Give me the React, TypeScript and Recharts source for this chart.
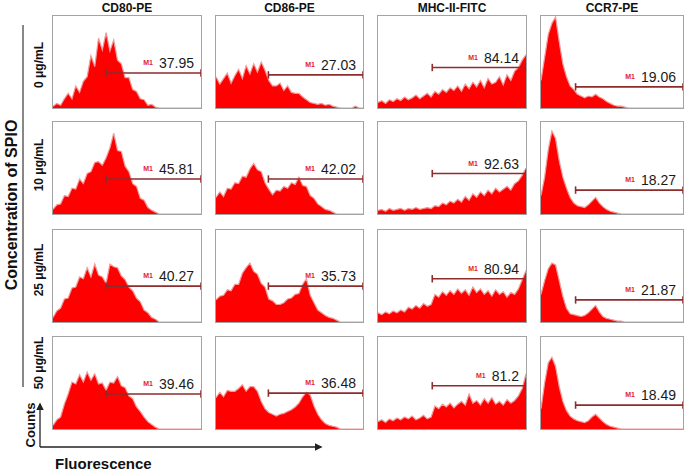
import React from 'react';
import { Area, AreaChart, Line, LineChart, ReferenceLine, XAxis, YAxis } from 'recharts';

const markers = ['CD80-PE', 'CD86-PE', 'MHC-II-FITC', 'CCR7-PE'];
const doses = ['0 μg/mL', '10 μg/mL', '25 μg/mL', '50 μg/mL'];

// gate (M1) start, in fluorescence bins (0..39)
const gateStart = [14, 13.9, 14.3, 9.5];

// event counts per bin, one row per SPIO dose (% of panel height)
const cd80Counts = [
  [2, 5, 3, 10, 16, 10, 24, 17, 29, 34, 57, 45, 76, 63, 82, 62, 74, 52, 48, 33, 33, 20, 18, 10, 9, 3, 4, 1, 0, 0, 0, 0, 0, 0, 0, 0, 0, 0, 0, 0],
  [5, 10, 11, 20, 19, 28, 27, 38, 33, 44, 46, 56, 57, 53, 61, 72, 88, 69, 68, 52, 46, 33, 30, 17, 15, 7, 4, 2, 0, 0, 0, 0, 0, 0, 0, 0, 0, 0, 0, 0],
  [5, 12, 15, 25, 26, 37, 38, 49, 47, 59, 49, 63, 51, 49, 42, 63, 60, 59, 50, 46, 38, 34, 26, 22, 13, 10, 5, 3, 0, 0, 0, 0, 0, 0, 0, 0, 0, 0, 0, 0],
  [4, 10, 13, 27, 38, 51, 49, 59, 51, 62, 53, 60, 49, 50, 42, 51, 50, 57, 47, 45, 36, 33, 24, 19, 13, 8, 5, 2, 0, 0, 0, 0, 0, 0, 0, 0, 0, 0, 0, 0],
];
const cd86Counts = [
  [34, 26, 32, 38, 27, 35, 42, 32, 46, 37, 48, 39, 50, 41, 30, 24, 24, 27, 19, 24, 17, 16, 16, 12, 9, 6, 5, 4, 5, 3, 4, 2, 1, 0, 0, 0, 0, 2, 0, 0],
  [18, 24, 19, 28, 27, 34, 33, 41, 40, 49, 55, 48, 46, 34, 27, 21, 26, 25, 30, 28, 34, 32, 40, 31, 30, 20, 17, 11, 8, 5, 4, 2, 0, 0, 0, 0, 0, 0, 0, 0],
  [24, 28, 29, 35, 34, 41, 41, 53, 59, 64, 55, 52, 42, 38, 25, 23, 19, 19, 21, 25, 26, 30, 31, 41, 47, 29, 21, 13, 10, 7, 5, 4, 2, 0, 0, 0, 0, 0, 0, 0],
  [34, 40, 35, 42, 41, 41, 44, 48, 41, 46, 46, 41, 30, 22, 18, 16, 14, 16, 17, 19, 21, 24, 28, 35, 40, 37, 25, 16, 10, 6, 4, 3, 2, 0, 0, 0, 0, 0, 0, 0],
];
const mhcCounts = [
  [6, 8, 5, 9, 7, 10, 8, 12, 9, 11, 14, 10, 13, 16, 12, 18, 15, 20, 17, 22, 19, 24, 18, 26, 21, 28, 23, 30, 22, 32, 26, 28, 34, 25, 36, 30, 40, 44, 52, 58],
  [4, 5, 3, 6, 4, 5, 6, 4, 6, 5, 7, 5, 6, 7, 6, 9, 8, 12, 10, 14, 12, 16, 13, 19, 15, 22, 18, 24, 20, 26, 22, 28, 24, 27, 30, 26, 33, 36, 42, 50],
  [10, 8, 11, 9, 12, 10, 13, 11, 16, 14, 18, 15, 20, 17, 19, 30, 27, 33, 29, 34, 30, 36, 31, 35, 29, 38, 32, 36, 30, 34, 28, 35, 30, 33, 27, 32, 30, 36, 46, 56],
  [8, 10, 7, 11, 9, 12, 10, 13, 11, 14, 10, 12, 15, 11, 13, 25, 22, 27, 24, 28, 23, 27, 30, 26, 38, 28, 31, 26, 33, 28, 34, 27, 30, 26, 32, 28, 31, 36, 44, 60],
];
const ccr7Counts = [
  [30, 55, 80, 92, 99, 72, 48, 34, 24, 20, 15, 13, 11, 13, 12, 15, 12, 10, 7, 5, 3, 2, 2, 1, 0, 0, 0, 0, 0, 0, 0, 0, 0, 0, 0, 0, 0, 0, 0, 0],
  [20, 40, 70, 90, 82, 58, 40, 28, 18, 12, 9, 8, 7, 10, 14, 18, 12, 8, 5, 3, 2, 1, 0, 0, 0, 0, 0, 0, 0, 0, 0, 0, 0, 0, 0, 0, 0, 0, 0, 0],
  [30, 45, 58, 64, 62, 45, 28, 15, 9, 8, 7, 6, 7, 10, 14, 18, 11, 6, 4, 3, 2, 1, 1, 0, 0, 0, 0, 0, 0, 0, 0, 0, 0, 0, 0, 0, 0, 0, 0, 0],
  [22, 50, 72, 78, 68, 46, 30, 20, 14, 11, 9, 8, 7, 9, 13, 16, 12, 8, 5, 3, 2, 1, 0, 0, 0, 0, 0, 0, 0, 0, 0, 0, 0, 0, 0, 0, 0, 0, 0, 0],
];

// % positive (M1) per dose
const cd80Pct = ['37.95', '45.81', '40.27', '39.46'];
const cd86Pct = ['27.03', '42.02', '35.73', '36.48'];
const mhcPct = ['84.14', '92.63', '80.94', '81.2'];
const ccr7Pct = ['19.06', '18.27', '21.87', '18.49'];

const countsByMarker = [cd80Counts, cd86Counts, mhcCounts, ccr7Counts];
const pctByMarker = [cd80Pct, cd86Pct, mhcPct, ccr7Pct];

// layout
const W = 686;
const H = 473;
const LAST_BIN = 39;
const colLeft = [52, 215, 377, 540];
const colWidth = [150, 149, 150, 144];
const rowTop = [15, 121, 229, 336];
const rowHeight = 94;
const gridBottom = 430;
const doseLabelY = [65, 165, 270, 363];
// height of the M1 bar, % of panel height [row][col]
const gateLevel = [
  [38, 36, 44, 23],
  [38, 38, 44, 26],
  [39, 39, 47, 24],
  [38, 39, 47, 26],
];
const FONT = 'Arial, "Liberation Sans", Helvetica, sans-serif';
const GATE = '#8e2b2b';

function GateLabel({ viewBox, pct }: any) {
  if (!viewBox) return null;
  const right = viewBox.x + viewBox.width - 7;
  const y = viewBox.y - 5;
  const textW = pct.replace('.', '').length * 7.8 + 3.9;
  return (
    <g>
      <text x={right} y={y} textAnchor="end" fontSize={14} fill="#1a1a1a" fontFamily={FONT}>
        {pct}
      </text>
      <text x={right - textW - 6} y={y - 3} textAnchor="end" fontSize={7} fontWeight="bold" fill="#e3242b" fontFamily={FONT}>
        M1
      </text>
    </g>
  );
}

function Histogram({ counts, gate, level, pct, width, height }: any) {
  const data = counts.map((c: number, i: number) => ({ bin: i, count: c }));
  return (
    <AreaChart width={width} height={height} data={data} margin={{ top: 0, right: 0, bottom: 0, left: 0 }}>
      <XAxis dataKey="bin" type="number" domain={[0, LAST_BIN]} hide />
      <YAxis domain={[0, 100]} hide allowDataOverflow />
      <Area
        type="linear"
        dataKey="count"
        fill="#ff0000"
        fillOpacity={1}
        stroke="#f29a9a"
        strokeWidth={1.2}
        dot={false}
        activeDot={false}
        isAnimationActive={false}
      />
      <ReferenceLine
        segment={[{ x: gate, y: level }, { x: LAST_BIN, y: level }]}
        stroke={GATE}
        strokeWidth={1.6}
        label={<GateLabel pct={pct} />}
      />
      <ReferenceLine segment={[{ x: gate, y: level - 4 }, { x: gate, y: level + 4 }]} stroke={GATE} strokeWidth={1.6} />
      <ReferenceLine segment={[{ x: LAST_BIN, y: level - 4 }, { x: LAST_BIN, y: level + 4 }]} stroke={GATE} strokeWidth={1.6} />
    </AreaChart>
  );
}

function GateGuide({ gate, width, height }: any) {
  return (
    <LineChart width={width} height={height} data={[{ bin: 0 }, { bin: LAST_BIN }]} margin={{ top: 0, right: 0, bottom: 0, left: 0 }}>
      <XAxis dataKey="bin" type="number" domain={[0, LAST_BIN]} hide />
      <YAxis domain={[0, 1]} hide />
      <Line dataKey="none" stroke="none" dot={false} isAnimationActive={false} />
      <ReferenceLine x={gate} stroke="#6e6e6e" strokeWidth={1} strokeDasharray="2 2" />
    </LineChart>
  );
}

export default function App() {
  return (
    <div style={{ position: 'absolute', left: 0, top: 0, width: W, height: H, background: '#fff', fontFamily: FONT }}>
      <svg width={W} height={H} style={{ position: 'absolute', left: 0, top: 0 }}>
        <defs>
          <marker id="arr" viewBox="0 0 10 10" refX="8" refY="5" markerWidth="6" markerHeight="6" orient="auto">
            <path d="M0,0 L10,5 L0,10 z" fill="#222" />
          </marker>
        </defs>
        {markers.map((m, c) => (
          <text key={m} x={colLeft[c] + colWidth[c] / 2} y={12} textAnchor="middle" fontSize={12} fontWeight="bold" fill="#111">
            {m}
          </text>
        ))}
        {doses.map((d, r) => (
          <text
            key={d}
            transform={`translate(39, ${doseLabelY[r]}) rotate(-90)`}
            textAnchor="middle"
            dominantBaseline="central"
            fontSize={12}
            fontWeight="bold"
            fill="#111"
          >
            {d}
          </text>
        ))}
        <text transform="translate(11, 205) rotate(-90)" textAnchor="middle" dominantBaseline="central" fontSize={16} fontWeight="bold" fill="#111">
          Concentration of SPIO
        </text>
        <line x1={23} y1={25} x2={23} y2={387} stroke="#111" strokeWidth={1} />
        <line x1={40} y1={447} x2={40} y2={404} stroke="#222" strokeWidth={1.3} markerEnd="url(#arr)" />
        <line x1={40} y1={447} x2={321} y2={447} stroke="#222" strokeWidth={1.3} markerEnd="url(#arr)" />
        <text transform="translate(30, 425) rotate(-90)" textAnchor="middle" dominantBaseline="central" fontSize={13} fontWeight="bold" fill="#111">
          Counts
        </text>
        <text x={55} y={469} fontSize={15} fontWeight="bold" fill="#111">
          Fluorescence
        </text>
      </svg>
      {rowTop.map((top, r) =>
        colLeft.map((left, c) => (
          <div
            key={`${r}-${c}`}
            style={{
              position: 'absolute',
              left,
              top,
              width: colWidth[c],
              height: rowHeight,
              border: '1px solid #a3a3a3',
              boxSizing: 'border-box',
            }}
          >
            <Histogram
              counts={countsByMarker[c][r]}
              gate={gateStart[c]}
              level={gateLevel[r][c]}
              pct={pctByMarker[c][r]}
              width={colWidth[c] - 2}
              height={rowHeight - 2}
            />
          </div>
        ))
      )}
      {colLeft.map((left, c) => (
        <div key={`g${c}`} style={{ position: 'absolute', left: left + 1, top: rowTop[0] + 1, pointerEvents: 'none' }}>
          <GateGuide gate={gateStart[c]} width={colWidth[c] - 2} height={gridBottom - rowTop[0] - 1} />
        </div>
      ))}
    </div>
  );
}
